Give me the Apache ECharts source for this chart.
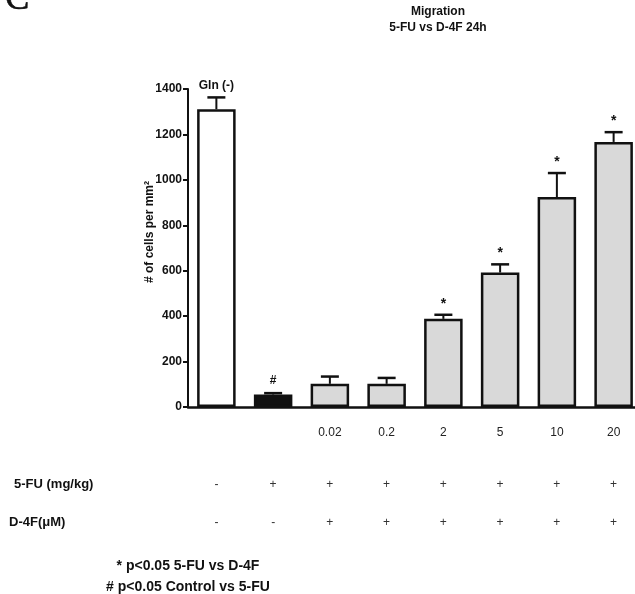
<!DOCTYPE html>
<html>
<head>
<meta charset="utf-8">
<script src="https://cdn.jsdelivr.net/npm/echarts@6/dist/echarts.min.js"></script>
<style>html,body{margin:0;padding:0;background:#fff;}#c{width:635px;height:594px;}</style>
</head>
<body>
<div id="c"></div>
<script>
// ---- data ----
var categories = ['Gln(-)', '5-FU', '0.02', '0.2', '2', '5', '10', '20'];
var doseLabels = ['', '', '0.02', '0.2', '2', '5', '10', '20'];
var means = [1311, 55, 102, 102, 388, 592, 924, 1167];
var errors = [52, 6, 32, 26, 18, 36, 106, 43];
var annotations = ['Gln (-)', '#', '', '', '*', '*', '*', '*'];
var fuSigns = ['-', '+', '+', '+', '+', '+', '+', '+'];
var d4fSigns = ['-', '-', '+', '+', '+', '+', '+', '+'];
var yTicks = [0, 200, 400, 600, 800, 1000, 1200, 1400];
var yAxisTitle = '# of cells per mm²';
var titleLines = ['Migration', '5-FU vs D-4F 24h'];
var footnotes = ['* p<0.05 5-FU vs D-4F', '# p<0.05 Control vs 5-FU'];

// ---- styles ----
var FONT = '"Liberation Sans", Arial, Helvetica, sans-serif';
var fills = ['#ffffff', '#111111', '#d9d9d9', '#d9d9d9', '#d9d9d9', '#d9d9d9', '#d9d9d9', '#d9d9d9'];

var chart = echarts.init(document.getElementById('c'), null, {renderer: 'canvas'});

var barData = means.map(function (v, i) {
  return {value: v, itemStyle: {color: fills[i]}};
});
var errData = means.map(function (v, i) { return [i, v, v + errors[i], annotations[i]]; });

function signAxis(signs, margin) {
  return {
    type: 'category', gridIndex: 0, position: 'bottom', data: categories,
    axisLine: {show: false}, axisTick: {show: false},
    axisLabel: {
      margin: margin, color: '#333', fontFamily: FONT, fontSize: 12, interval: 0,
      formatter: function (v, i) { return signs[i]; }
    }
  };
}

chart.setOption({
  animation: false,
  backgroundColor: '#fff',
  grid: {left: 188, top: 89, width: 454, height: 318, outerBoundsMode: 'none', containLabel: false},
  xAxis: [
    {
      type: 'category', data: categories, position: 'bottom',
      axisLine: {show: true, lineStyle: {color: '#111', width: 2.5}},
      axisTick: {show: false},
      axisLabel: {
        margin: 20, color: '#222', fontFamily: FONT, fontSize: 12, interval: 0,
        formatter: function (v, i) { return doseLabels[i]; }
      }
    },
    signAxis(fuSigns, 72),
    signAxis(d4fSigns, 110)
  ],
  yAxis: {
    type: 'value', min: yTicks[0], max: yTicks[yTicks.length - 1], interval: 200,
    splitLine: {show: false},
    axisLine: {show: true, lineStyle: {color: '#111', width: 2}},
    axisTick: {show: true, length: 5, lineStyle: {color: '#111', width: 2}},
    axisLabel: {margin: 6, fontFamily: FONT, fontWeight: 'bold', fontSize: 12, color: '#111',
      formatter: function (v) { return String(v); }}
  },
  series: [
    {
      type: 'bar', data: barData, barWidth: 38.5,
      itemStyle: {borderColor: '#111', borderWidth: 2.5}
    },
    {
      type: 'custom', data: errData, z: 3,
      renderItem: function (params, api) {
        var x = api.value(0);
        var base = api.coord([x, api.value(1)]);
        var top = api.coord([x, api.value(2)]);
        var cap = 9;
        var children = [
          {type: 'line', shape: {x1: base[0], y1: base[1], x2: top[0], y2: top[1]},
            style: {stroke: '#111', lineWidth: 2}},
          {type: 'line', shape: {x1: top[0] - cap, y1: top[1], x2: top[0] + cap, y2: top[1]},
            style: {stroke: '#111', lineWidth: 2.5}}
        ];
        var ann = annotations[params.dataIndex];
        if (ann) {
          children.push({type: 'text', style: {
            text: ann, x: top[0], y: top[1] - (ann === '*' ? 4 : 6),
            textAlign: 'center', textVerticalAlign: 'bottom',
            fontFamily: FONT, fontWeight: 'bold', fontSize: ann === '*' ? 14 : 12, fill: '#111'
          }});
        }
        return {type: 'group', children: children};
      }
    }
  ],
  graphic: [
    {type: 'text', left: 5, top: -19, style: {text: 'C', fontFamily: '"Liberation Serif", "Times New Roman", serif', fontSize: 36, fill: '#111', stroke: '#111', lineWidth: 0.6}},
    {type: 'text', x: 438, y: 4, style: {text: titleLines.join('\n'), textAlign: 'center', fontFamily: FONT, fontWeight: 'bold', fontSize: 12, lineHeight: 16, fill: '#111'}},
    {type: 'text', x: 150, y: 232, rotation: Math.PI / 2, style: {text: yAxisTitle, textAlign: 'center', textVerticalAlign: 'middle', fontFamily: FONT, fontWeight: 'bold', fontSize: 12, fill: '#111'}},
    {type: 'text', x: 14, y: 478, style: {text: '5-FU (mg/kg)', fontFamily: FONT, fontWeight: 'bold', fontSize: 13, fill: '#111'}},
    {type: 'text', x: 9, y: 516, style: {text: 'D-4F(μM)', fontFamily: FONT, fontWeight: 'bold', fontSize: 13, fill: '#111'}},
    {type: 'text', x: 188, y: 556, style: {text: footnotes.join('\n'), textAlign: 'center', fontFamily: FONT, fontWeight: 'bold', fontSize: 14, lineHeight: 21, fill: '#111'}}
  ]
});
</script>
</body>
</html>
